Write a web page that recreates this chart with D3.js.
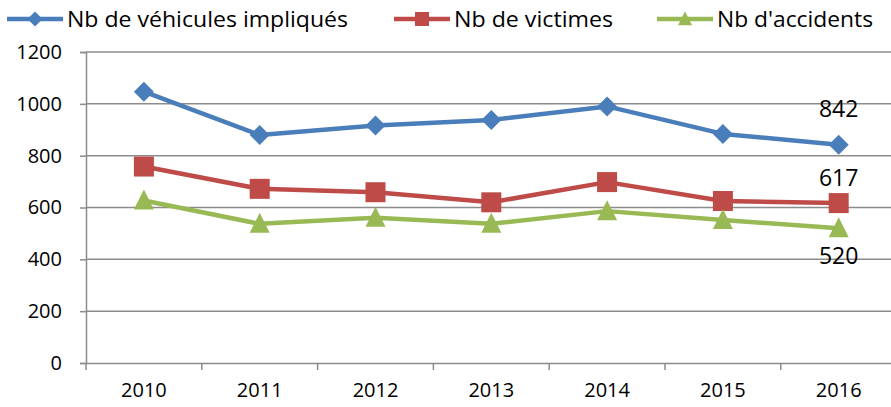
<!DOCTYPE html>
<html>
<head>
<meta charset="utf-8">
<script src="https://cdn.jsdelivr.net/npm/d3@7"></script>
<style>
  body { margin: 0; background: #fff; }
  svg { display: block; font-family: "Open Sans", sans-serif; }
</style>
</head>
<body>
<svg width="891" height="407"></svg>
<script>
const years = ['2010', '2011', '2012', '2013', '2014', '2015', '2016'];
const vehicules = [1047, 880, 916, 938, 990, 884, 842];
const victimes = [758, 672, 659, 620, 698, 625, 617];
const accidents = [627, 537, 560, 537, 586, 552, 520];
const yTicks = [0, 200, 400, 600, 800, 1000, 1200];
const seriesNames = ['Nb de véhicules impliqués', 'Nb de victimes', "Nb d'accidents"];

const svg = d3.select('svg');

const series = [
    { name: seriesNames[0], values: vehicules, color: '#4A7EBB', symbol: 'diamond', labelDy: -28 },
    { name: seriesNames[1], values: victimes, color: '#BE4B48', symbol: 'square', labelDy: -17 },
    { name: seriesNames[2], values: accidents, color: '#98B954', symbol: 'triangle', labelDy: 36 }
];

const margin = { left: 86, top: 52, bottom: 363 };
const step = 115.8;

const xscale = d3.scaleBand()
    .domain(years)
    .range([margin.left, margin.left + step * years.length]);

const yscale = d3.scaleLinear()
    .domain([0, 1200])
    .range([margin.bottom, margin.top]);

const gridColor = '#8c8c8c';

// marker shapes, excel style
const marker = (type, r) => {
    if (type === 'diamond') return `M0,${-r}L${r},0L0,${r}L${-r},0Z`;
    if (type === 'square') return `M${-r},${-r}H${r}V${r}H${-r}Z`;
    return `M0,${-r * 1.1}L${r},${r * 0.9}L${-r},${r * 0.9}Z`;
};

// gridlines
svg.append('g')
    .selectAll('line').data(yTicks.filter(d => d > 0))
    .enter().append('line')
        .attr('x1', margin.left)
        .attr('x2', xscale.range()[1])
        .attr('y1', d => yscale(d))
        .attr('y2', d => yscale(d))
        .attr('stroke', gridColor)
        .attr('stroke-width', 1.5);

// y axis
const yAxis = svg.append('g')
    .attr('transform', `translate(${margin.left},0)`)
    .call(d3.axisLeft(yscale).tickValues(yTicks).tickFormat(d3.format('d')).tickSize(6).tickPadding(18));
yAxis.select('.domain').attr('stroke', gridColor).attr('stroke-width', 1.5);
yAxis.selectAll('.tick line').attr('stroke', gridColor).attr('stroke-width', 1.5);
yAxis.selectAll('text').attr('font-size', 20).attr('fill', '#000').attr('font-family', '"Open Sans", sans-serif');

// x axis
const xAxis = svg.append('g')
    .attr('transform', `translate(0,${margin.bottom})`)
    .call(d3.axisBottom(xscale).tickSize(0).tickPadding(20));
xAxis.select('.domain').attr('stroke', gridColor).attr('stroke-width', 1.5);
xAxis.selectAll('text').attr('font-size', 20).attr('fill', '#000').attr('font-family', '"Open Sans", sans-serif');

// x tick marks between categories
svg.append('g')
    .selectAll('line').data(years)
    .enter().append('line')
        .attr('x1', d => xscale(d))
        .attr('x2', d => xscale(d))
        .attr('y1', margin.bottom)
        .attr('y2', margin.bottom + 7)
        .attr('stroke', gridColor)
        .attr('stroke-width', 1.5);

const cx = d => xscale(d) + xscale.bandwidth() / 2;

const line = d3.line()
    .x((d, i) => cx(years[i]))
    .y(d => yscale(d));

series.forEach(s => {
    const g = svg.append('g');
    g.append('path')
        .attr('d', line(s.values))
        .attr('fill', 'none')
        .attr('stroke', s.color)
        .attr('stroke-width', 4.5)
        .attr('stroke-linejoin', 'round');
    g.selectAll('path.m').data(s.values)
        .enter().append('path')
            .attr('class', 'm')
            .attr('d', marker(s.symbol, 10))
            .attr('transform', (d, i) => `translate(${cx(years[i])},${yscale(d)})`)
            .attr('fill', s.color);
    // label on last point
    const last = s.values.length - 1;
    g.append('text')
        .attr('x', cx(years[last]))
        .attr('y', yscale(s.values[last]) + s.labelDy)
        .attr('text-anchor', 'middle')
        .attr('font-size', 23)
        .attr('fill', '#000')
        .text(s.values[last]);
});

// legend
const legendX = [7, 394, 657];
const legendW = [281, 159, 156];
series.forEach((s, i) => {
    const g = svg.append('g').attr('transform', `translate(${legendX[i]},19)`);
    g.append('line')
        .attr('x1', 0).attr('x2', 56)
        .attr('stroke', s.color)
        .attr('stroke-width', 4.5);
    g.append('path')
        .attr('d', marker(s.symbol, s.symbol === 'diamond' ? 7.5 : 7))
        .attr('transform', 'translate(28,0)')
        .attr('fill', s.color);
    g.append('text')
        .attr('x', 60)
        .attr('y', 8)
        .attr('font-size', 21)
        .attr('fill', '#000')
        .attr('textLength', legendW[i])
        .attr('lengthAdjust', 'spacingAndGlyphs')
        .text(s.name);
});
</script>
</body>
</html>
